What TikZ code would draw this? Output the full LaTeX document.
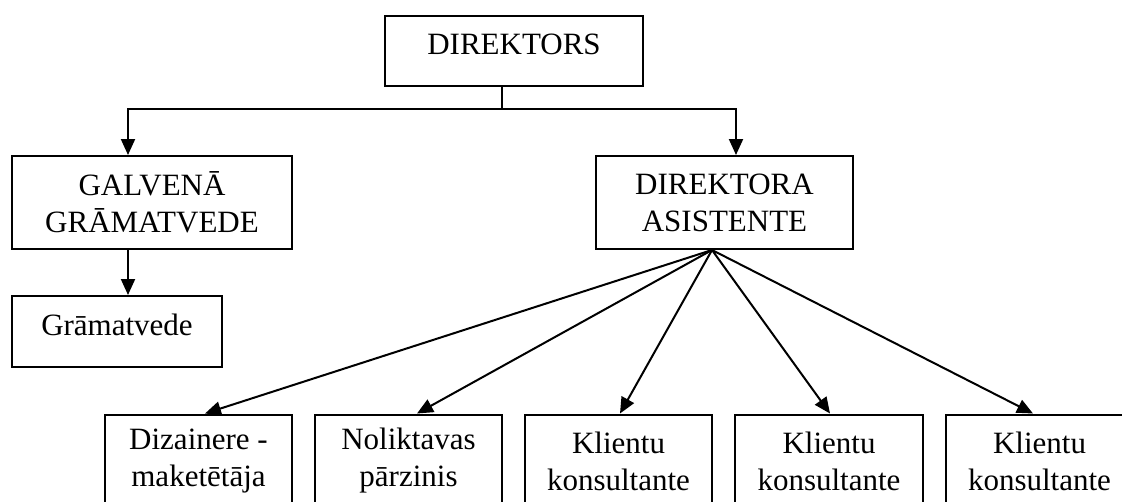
\documentclass[tikz,border=0pt]{standalone}
\usepackage{fontspec}
\setmainfont{Liberation Serif}
\usetikzlibrary{arrows.meta}

\begin{document}
\begin{tikzpicture}[x=1pt, y=-1pt, line width=2pt,
        box/.style = {draw, rectangle, align=center, font=\fontsize{31pt}{37pt}\selectfont},
        onebox/.style = {box, text height=25pt, text depth=18pt},
        arr/.style = {-{Triangle[length=16pt, width=14pt]}}]
        \clip (0,0) rectangle (1122,501);
        \node[onebox, minimum width=258pt, minimum height=70pt] (dir) at (514,51) {DIREKTORS};
        \node[box, minimum width=280pt, minimum height=93pt] (galv) at (152,202.5) {GALVENĀ\\GRĀMATVEDE};
        \node[box, minimum width=257pt, minimum height=93pt] (asis) at (724.5,202.5) {DIREKTORA\\ASISTENTE};
        \node[onebox, minimum width=210pt, minimum height=71pt] (gram) at (117,331.5) {Grāmatvede};
        \node[box, minimum width=187pt, minimum height=93pt] (diz) at (198.5,461) {Dizainere -\\maketētāja};
        \node[box, minimum width=187pt, minimum height=93pt] (nol) at (408.5,461) {Noliktavas\\pārzinis};
        \node[box, minimum width=187pt, minimum height=93pt] (kl1) at (618.5,461) {Klientu\\konsultante};
        \node[box, minimum width=188pt, minimum height=93pt] (kl2) at (829,461) {Klientu\\konsultante};
        \node[box, minimum width=187pt, minimum height=93pt] (kl3) at (1039.5,461) {Klientu\\konsultante};
        \coordinate (split) at (502,109);

        \draw ([xshift=-12pt]dir.south) -- (split);
        \draw[arr] (split) -| ([xshift=-24pt]galv.north);
        \draw[arr] (split) -| ([xshift=11.5pt]asis.north);
        \draw[arr] ([xshift=-24pt]galv.south) -- ([xshift=11pt]gram.north);
        \draw[arr] ([xshift=-12.5pt]asis.south) -- ([xshift=6.5pt]diz.north);
        \draw[arr] ([xshift=-12.5pt]asis.south) -- ([xshift=8.5pt]nol.north);
        \draw[arr] ([xshift=-12.5pt]asis.south) -- ([xshift=1.5pt]kl1.north);
        \draw[arr] ([xshift=-12.5pt]asis.south) -- ([xshift=1pt]kl2.north);
        \draw[arr] ([xshift=-12.5pt]asis.south) -- ([xshift=-6.5pt]kl3.north);
\end{tikzpicture}
\end{document}
